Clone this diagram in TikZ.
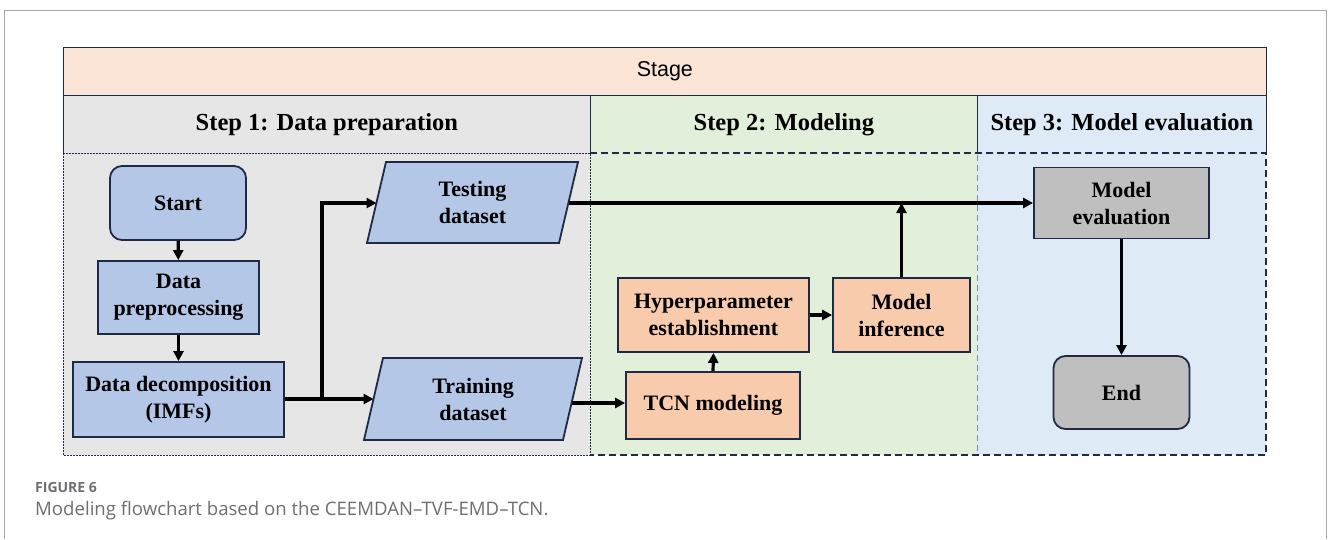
\documentclass[tikz,border=0pt]{standalone}
\usepackage{fontspec}
\setmainfont{Liberation Serif}
\newfontfamily\arialfont{Liberation Sans}
\newfontfamily\capfont{Open Sans}
\usetikzlibrary{shapes.geometric,arrows.meta}
\definecolor{peach}{HTML}{FBE5D6}
\definecolor{hgray}{HTML}{E7E6E6}
\definecolor{hgreen}{HTML}{E2EFDA}
\definecolor{hblue}{HTML}{DEEBF7}
\definecolor{navy}{HTML}{1F2A44}
\definecolor{boxblue}{HTML}{B4C7E7}
\definecolor{boxorange}{HTML}{F8CBAD}
\definecolor{boxgray}{HTML}{BFBFBF}
\definecolor{framegray}{HTML}{A6A6A6}
\definecolor{captext}{HTML}{6D6E71}
\definecolor{sepline}{HTML}{7F8C9A}
\tikzset{
  hdr/.style={draw=navy, line width=0.7pt, inner sep=0pt},
  steptitle/.style={font=\fontsize{24.5}{28}\selectfont\bfseries},
  boxfont/.style={align=center, inner sep=0pt, font=\fontsize{22}{27}\selectfont\bfseries},
  box/.style={draw=navy, line width=1.8pt, boxfont},
  bluebox/.style={box, fill=boxblue},
  orangebox/.style={box, fill=boxorange},
  graybox/.style={box, fill=boxgray},
  parashape/.style={draw=navy, line width=1.8pt, fill=boxblue},
  arr/.style={line width=3.2pt, -{Triangle[length=10pt,width=10pt]}},
  fine/.style={draw=navy, line width=0.8pt, dash pattern=on 2pt off 1pt},
  heavy/.style={draw=navy, line width=1.4pt, dash pattern=on 7pt off 4pt},
}
\begin{document}
\begin{tikzpicture}[x=1pt,y=-1pt]
\useasboundingbox (0,0) rectangle (1328,539);
% outer frame
\draw[framegray, line width=1pt] (4,539) -- (4,10) -- (1326.5,10) -- (1326.5,539);
% stage header
\node[hdr, fill=peach, minimum width=1203, minimum height=48, anchor=north west,
  font=\arialfont\fontsize{21.5}{24}\selectfont] (stage) at (63,47) {Stage};
% step headers
\node[hdr, fill=hgray, minimum width=527, minimum height=58, anchor=north west, steptitle] (s1) at (63,95) {Step 1: Data preparation};
\node[hdr, fill=hgreen, minimum width=387, minimum height=58, anchor=north west, steptitle] (s2) at (590,95) {Step 2: Modeling};
\node[hdr, fill=hblue, minimum width=289, minimum height=58, anchor=north west, steptitle] (s3) at (977,95) {Step 3: Model evaluation};
% bodies
\fill[hgray] (63,153) rectangle (590,455);
\fill[hgreen] (590,153) rectangle (977,455);
\fill[hblue] (977,153) rectangle (1266,455);
\draw[fine] (63,153) rectangle (590,455);
\draw[heavy] (590,153) -- (1266,153) -- (1266,455) -- (590,455);
\draw[sepline, line width=0.6pt, dash pattern=on 6pt off 4pt] (977,155) -- (977,453);
% step 1 nodes
\node[bluebox, rounded corners=12pt, minimum width=136, minimum height=74] (start) at (178,203) {Start};
\node[bluebox, minimum width=161, minimum height=73] (pre) at (178.5,297.5) {Data\\preprocessing};
\node[bluebox, minimum width=211, minimum height=75] (dec) at (178.5,399.5) {Data decomposition\\(IMFs)};
% parallelograms (data sets)
\draw[parashape] (386,162) -- (578,162) -- (559,243) -- (367,243) -- cycle;
\node[boxfont] (test) at (472.5,202.5) {Testing\\dataset};
\coordinate (testW) at (376.5,203);
\coordinate (testE) at (568.5,203);
\draw[parashape] (383,358) -- (582,358) -- (563,440) -- (364,440) -- cycle;
\node[boxfont] (train) at (473,399) {Training\\dataset};
\coordinate (trainW) at (373.5,399);
\coordinate (trainE) at (571.5,403);
% step 2 nodes
\node[orangebox, minimum width=191, minimum height=74] (hyp) at (713.5,315) {Hyperparameter\\establishment};
\node[orangebox, minimum width=137, minimum height=74] (inf) at (901.5,315) {Model\\inference};
\node[orangebox, minimum width=174, minimum height=67] (tcn) at (713,405.5) {TCN modeling};
% step 3 nodes
\node[graybox, minimum width=175, minimum height=71] (me) at (1121.5,203) {Model\\evaluation};
\node[graybox, rounded corners=12pt, minimum width=136, minimum height=73] (end) at (1121.5,392.5) {End};
\coordinate (br) at (322,0);
\coordinate (join) at (inf.north |- testE);
% connectors
\draw[arr] (start) -- (pre);
\draw[arr] (pre) -- (dec);
\draw[arr] (dec.east |- trainW) -- (trainW);
\draw[arr] (br |- trainW) |- (testW);
\draw[arr] (testE) -- (me.west |- testE);
\draw[arr] (inf.north) -- (join);
\draw[arr] (hyp.east) -- (inf.west);
\draw[arr] (tcn.north) -- (hyp.south);
\draw[arr] (trainE) -- (tcn.west |- trainE);
\draw[arr] (me.south) -- (end.north);
% caption
\node[anchor=base west, inner sep=0pt, text=captext, font=\capfont\fontsize{14}{16}\selectfont\bfseries] (fig) at (35,492) {FIGURE 6};
\node[anchor=base west, inner sep=0pt, text=captext, font=\capfont\fontsize{18.6}{20}\selectfont] (cap) at (35,515) {Modeling flowchart based on the CEEMDAN–TVF-EMD–TCN.};
\end{tikzpicture}
\end{document}
